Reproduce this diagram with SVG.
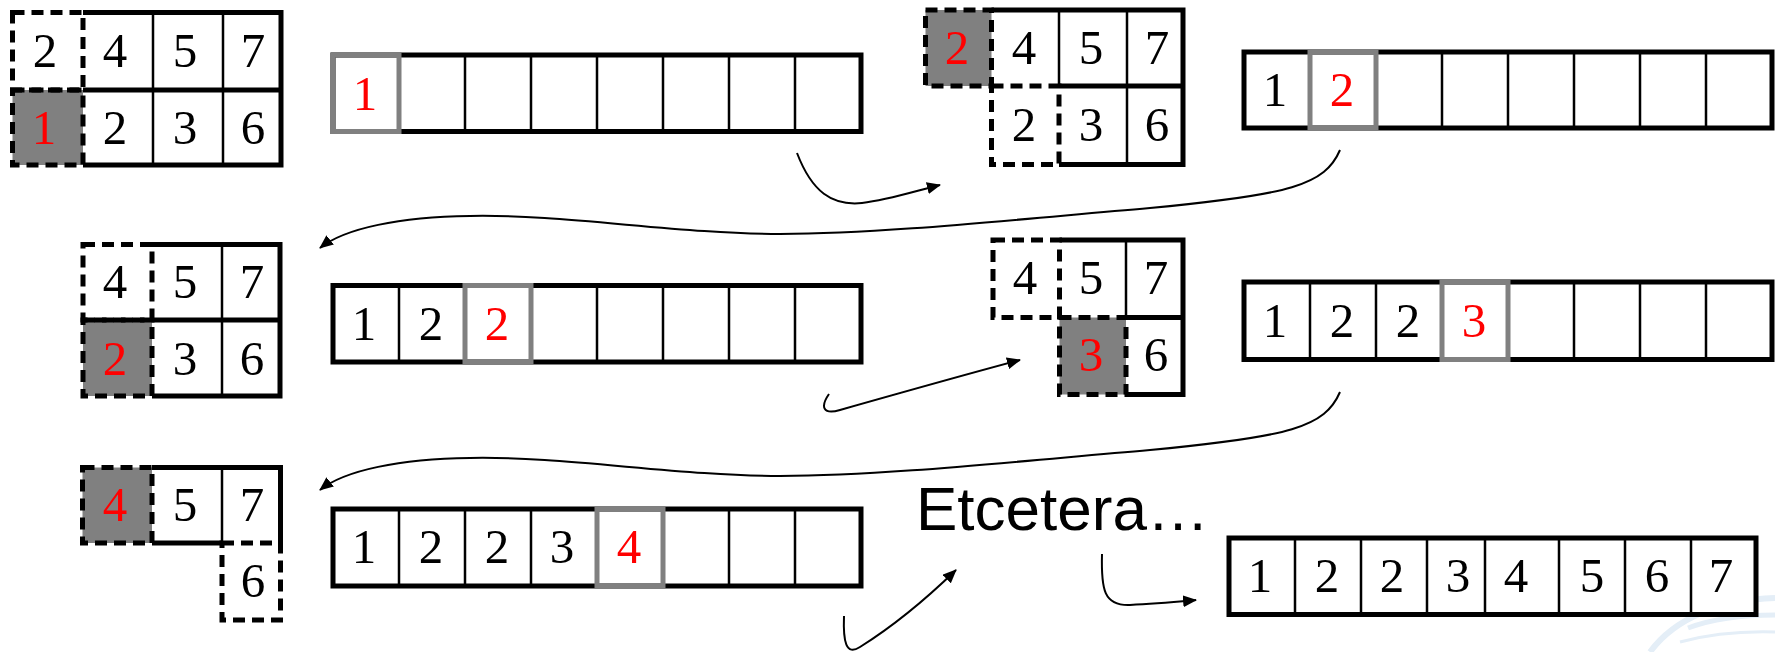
<svg xmlns="http://www.w3.org/2000/svg" width="1775" height="652" viewBox="0 0 1775 652">
  <defs>
    <marker id="ah" viewBox="0 0 14 12" refX="13" refY="6" markerWidth="14" markerHeight="12" markerUnits="userSpaceOnUse" orient="auto">
      <path d="M0,0 L14,6 L0,12 z" fill="#000"/>
    </marker>
    <style>
      .thick { fill: none; stroke: #000; stroke-width: 5; }
      .thin { fill: none; stroke: #000; stroke-width: 2.5; }
      .dash { fill: none; stroke: #000; stroke-width: 5; stroke-dasharray: 12 7; }
      .shade { fill: #808080; }
      .box { fill: #fff; stroke: #000; stroke-width: 5; }
      .hl { fill: none; stroke: #808080; stroke-width: 5; }
      .num { font-family: "Liberation Serif", Tinos, "Times New Roman", "DejaVu Serif", serif; font-size: 49px; text-anchor: middle; fill: #000; }
      .red { fill: #ff0000; }
      .link { fill: none; stroke: #000; stroke-width: 2; marker-end: url(#ah); }
      .label { font-family: "Liberation Sans", Arial, sans-serif; font-size: 62px; fill: #000; }
    </style>
  </defs>
  <rect width="1775" height="652" fill="#fff"/>

  <!-- faint logo mark, lower right -->
  <g id="logo" fill="none" stroke="#e4eef7">
    <path d="M1650,652 C1675,618 1720,600 1775,598" stroke-width="6"/>
    <path d="M1688,628 C1712,619 1742,615 1775,615" stroke-width="5"/>
    <path d="M1680,642 C1710,634 1742,631 1775,632" stroke-width="3"/>
  </g>

  <g font-family="'Liberation Serif', Tinos, 'Times New Roman', serif">
  <!-- step 1: heaps -->
  <g id="heap1">
    <rect class="shade" x="12.5" y="90" width="70.5" height="75"/>
    <path class="thick" d="M83,12.5 H281 V165 H83"/>
    <path class="thick" d="M83,90 H281"/>
    <path class="thin" d="M153,12.5 V165 M223,12.5 V165"/>
    <rect class="dash" x="12.5" y="12.5" width="70.5" height="77.5"/>
    <rect class="dash" x="12.5" y="90" width="70.5" height="75"/>
    <text class="num" x="45" y="67">2</text>
    <text class="num" x="115" y="67">4</text>
    <text class="num" x="185" y="67">5</text>
    <text class="num" x="253" y="67">7</text>
    <text class="num red" x="44" y="144">1</text>
    <text class="num" x="115" y="144">2</text>
    <text class="num" x="185" y="144">3</text>
    <text class="num" x="253" y="144">6</text>
  </g>

  <g id="out1">
    <rect class="box" x="333" y="55" width="528" height="76.5"/>
    <path class="thin" d="M399,55 V131.5 M465,55 V131.5 M531,55 V131.5 M597,55 V131.5 M663,55 V131.5 M729,55 V131.5 M795,55 V131.5"/>
    <rect class="hl" x="333" y="55" width="66" height="76.5"/>
    <text class="num red" x="365" y="110">1</text>
  </g>

  <!-- step 2 -->
  <g id="heap2">
    <rect class="shade" x="925.5" y="10" width="66" height="76"/>
    <path class="thick" d="M991.5,10 H1183 V164.5 H1059"/>
    <path class="thick" d="M1059,86 H1183"/>
    <path class="thin" d="M1059,10 V86 M1127,10 V164.5"/>
    <rect class="dash" x="925.5" y="10" width="66" height="76"/>
    <rect class="dash" x="991.5" y="86" width="67.5" height="78.5"/>
    <text class="num red" x="957" y="64">2</text>
    <text class="num" x="1024" y="64">4</text>
    <text class="num" x="1091" y="64">5</text>
    <text class="num" x="1157" y="64">7</text>
    <text class="num" x="1024" y="141">2</text>
    <text class="num" x="1091" y="141">3</text>
    <text class="num" x="1157" y="141">6</text>
  </g>

  <g id="out2">
    <rect class="box" x="1244" y="52" width="528" height="76"/>
    <path class="thin" d="M1310,52 V128 M1376,52 V128 M1442,52 V128 M1508,52 V128 M1574,52 V128 M1640,52 V128 M1706,52 V128"/>
    <rect class="hl" x="1310" y="52" width="66" height="76"/>
    <text class="num" x="1275" y="106">1</text>
    <text class="num red" x="1342" y="106">2</text>
  </g>

  <!-- step 3 -->
  <g id="heap3">
    <rect class="shade" x="83" y="320" width="69" height="76"/>
    <path class="thick" d="M152,244.5 H280 V396 H152"/>
    <path class="thick" d="M152,320 H280"/>
    <path class="thin" d="M222,244.5 V396"/>
    <rect class="dash" x="83" y="244.5" width="69" height="75.5"/>
    <rect class="dash" x="83" y="320" width="69" height="76"/>
    <text class="num" x="115" y="298">4</text>
    <text class="num" x="185" y="298">5</text>
    <text class="num" x="252" y="298">7</text>
    <text class="num red" x="115" y="375">2</text>
    <text class="num" x="185" y="375">3</text>
    <text class="num" x="252" y="375">6</text>
  </g>

  <g id="out3">
    <rect class="box" x="333" y="285.5" width="528" height="76.5"/>
    <path class="thin" d="M399,285.5 V362 M465,285.5 V362 M531,285.5 V362 M597,285.5 V362 M663,285.5 V362 M729,285.5 V362 M795,285.5 V362"/>
    <rect class="hl" x="465" y="285.5" width="66" height="76.5"/>
    <text class="num" x="364" y="340">1</text>
    <text class="num" x="431" y="340">2</text>
    <text class="num red" x="497" y="340">2</text>
  </g>

  <!-- step 4 -->
  <g id="heap4">
    <rect class="shade" x="1059.5" y="317.5" width="66.5" height="77"/>
    <path class="thick" d="M1059.5,240 H1183 V394.5 H1126"/>
    <path class="thick" d="M1126,317.5 H1183"/>
    <path class="thin" d="M1126,240 V317.5"/>
    <rect class="dash" x="993" y="240" width="66.5" height="77.5"/>
    <rect class="dash" x="1059.5" y="317.5" width="66.5" height="77"/>
    <text class="num" x="1025" y="294">4</text>
    <text class="num" x="1091" y="294">5</text>
    <text class="num" x="1156" y="294">7</text>
    <text class="num red" x="1091" y="371">3</text>
    <text class="num" x="1156" y="371">6</text>
  </g>

  <g id="out4">
    <rect class="box" x="1244" y="282" width="528" height="77.5"/>
    <path class="thin" d="M1310,282 V359.5 M1376,282 V359.5 M1442,282 V359.5 M1508,282 V359.5 M1574,282 V359.5 M1640,282 V359.5 M1706,282 V359.5"/>
    <rect class="hl" x="1442" y="282" width="66" height="77.5"/>
    <text class="num" x="1275" y="337">1</text>
    <text class="num" x="1342" y="337">2</text>
    <text class="num" x="1408" y="337">2</text>
    <text class="num red" x="1474" y="337">3</text>
  </g>

  <!-- step 5 -->
  <g id="heap5">
    <rect class="shade" x="82.5" y="467.5" width="69.5" height="75.5"/>
    <path class="thick" d="M152,467.5 H280.5 V543"/>
    <path class="thick" d="M152,543 H222"/>
    <path class="thin" d="M222,467.5 V543"/>
    <rect class="dash" x="82.5" y="467.5" width="69.5" height="75.5"/>
    <rect class="dash" x="222" y="543" width="58.5" height="77"/>
    <text class="num red" x="115" y="521">4</text>
    <text class="num" x="185" y="521">5</text>
    <text class="num" x="252" y="521">7</text>
    <text class="num" x="253" y="597">6</text>
  </g>

  <g id="out5">
    <rect class="box" x="333" y="509" width="528" height="77"/>
    <path class="thin" d="M399,509 V586 M465,509 V586 M531,509 V586 M597,509 V586 M663,509 V586 M729,509 V586 M795,509 V586"/>
    <rect class="hl" x="597" y="509" width="66" height="77"/>
    <text class="num" x="364" y="563">1</text>
    <text class="num" x="431" y="563">2</text>
    <text class="num" x="497" y="563">2</text>
    <text class="num" x="562" y="563">3</text>
    <text class="num red" x="629" y="563">4</text>
  </g>

  <g id="sorted">
    <rect class="box" x="1229" y="538" width="527" height="76.5"/>
    <path class="thin" d="M1295,538 V614.5 M1361,538 V614.5 M1427,538 V614.5 M1485,538 V614.5 M1559,538 V614.5 M1625,538 V614.5 M1691,538 V614.5"/>
    <text class="num" x="1260" y="592">1</text>
    <text class="num" x="1327" y="592">2</text>
    <text class="num" x="1392" y="592">2</text>
    <text class="num" x="1458" y="592">3</text>
    <text class="num" x="1516" y="592">4</text>
    <text class="num" x="1592" y="592">5</text>
    <text class="num" x="1657" y="592">6</text>
    <text class="num" x="1721" y="592">7</text>
  </g>
  </g>

  <g id="etcetera">
    <text class="label" x="916" y="530">Etcetera…</text>
  </g>

  <!-- connectors between steps -->
  <g id="connectors">
    <path class="link" d="M797,153 C812,192 832,206 862,203 C888,200 912,192 940,185"/>
    <path class="link" d="M1340,150 C1325,185 1290,195 1150,208 C1010,220 880,234 780,234 C680,234 560,214 470,216 C400,217 345,228 320,248"/>
    <path class="link" d="M829,394 C820,407 823,415 840,410 C900,393 960,376 1020,360"/>
    <path class="link" d="M1340,392 C1325,427 1290,437 1150,450 C1010,462 880,476 780,476 C680,476 560,456 470,458 C400,459 345,470 320,490"/>
    <path class="link" d="M844,616 C843,642 846,656 860,647 C892,627 925,600 956,570"/>
    <path class="link" d="M1102,554 C1101,590 1104,606 1130,605 C1155,604 1175,602 1196,600"/>
  </g>
</svg>
